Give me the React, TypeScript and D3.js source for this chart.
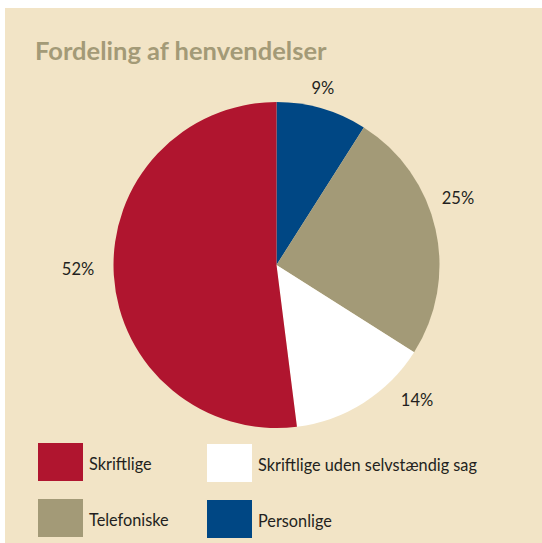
import React from "react";
import * as d3 from "d3";

const categories = ["Personlige", "Telefoniske", "Skriftlige uden selvstændig sag", "Skriftlige"];
const values = [9, 25, 14, 52];
const labels = ["9%", "25%", "14%", "52%"];
const colors = ["#004784", "#A39A77", "#FFFFFF", "#B0152F"];
const legendOrder = ["Skriftlige", "Skriftlige uden selvstændig sag", "Telefoniske", "Personlige"];

const W = 542, H = 543;
const cx = 276.5, cy = 265, R = 163;
// label placement: [angle offset (deg) from slice mid, radius]
const labelLayout = [[-1.5, 183], [-7.7, 193.5], [-13.7, 195], [2.4, 198.5]];

export default function App() {
  const pie = d3.pie<number>().sort(null).value((d) => d)(values);
  const arc = d3.arc<d3.PieArcDatum<number>>().innerRadius(0).outerRadius(R);
  const legendX = d3.scaleOrdinal<string, number>().domain(legendOrder).range([38, 207, 38, 207]);
  const legendY = d3.scaleOrdinal<string, number>().domain(legendOrder).range([443, 444, 499, 500]);
  const font = "Lato, 'Open Sans', sans-serif";
  return (
    <svg width={W} height={H} style={{ position: "absolute", left: 0, top: 0 }}>
      <rect x={5} y={8} width={W - 5} height={H - 8} fill="#F2E4C6" />
      <text x={35} y={60} fontFamily={font} fontWeight="bold" fontSize={25.5} fill="#A39A77">
        Fordeling af henvendelser
      </text>
      <g transform={`translate(${cx},${cy})`}>
        {pie.map((p, i) => (
          <path key={i} d={arc(p) || ""} fill={colors[i]} />
        ))}
        {pie.map((p, i) => {
          const mid = (p.startAngle + p.endAngle) / 2 + (labelLayout[i][0] * Math.PI) / 180;
          const r = labelLayout[i][1];
          const x = r * Math.sin(mid), y = -r * Math.cos(mid);
          return (
            <text key={"l" + i} x={x} y={y} textAnchor="middle" dominantBaseline="central"
              fontFamily={font} fontSize={16.5} fill="#231F20">
              {labels[i]}
            </text>
          );
        })}
      </g>
      {legendOrder.map((c) => {
        const i = categories.indexOf(c);
        const x = legendX(c), y = legendY(c);
        return (
          <g key={c}>
            <rect x={x} y={y} width={45} height={38} fill={colors[i]} />
            <text x={x + 51} y={y + 20} dominantBaseline="central" fontFamily={font} fontSize={16.3} fill="#231F20">
              {c}
            </text>
          </g>
        );
      })}
    </svg>
  );
}
